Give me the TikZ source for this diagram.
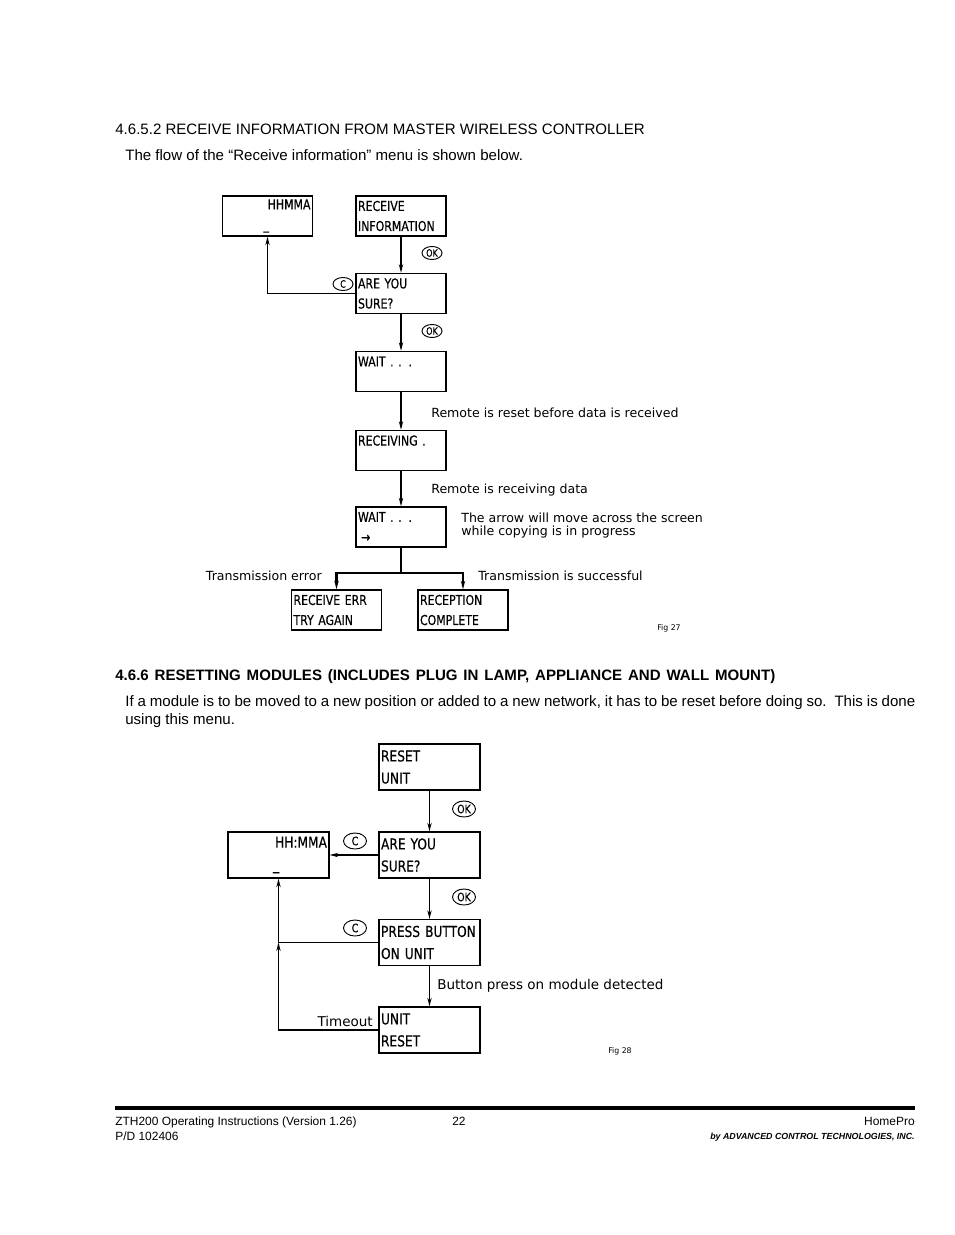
\documentclass[tikz,border=0pt]{standalone}
\usepackage{fontspec}
\setmainfont{Liberation Sans}
\newfontfamily\boxfont[FakeStretch=0.8,FakeBold=0.4]{DejaVu Sans}
\newfontfamily\bigboxfont[FakeStretch=0.81,FakeBold=0.4]{DejaVu Sans}
\newfontfamily\notefont{DejaVu Sans}
\usetikzlibrary{arrows.meta,shapes.geometric}
\tikzset{
BOX/.style ={draw=black,line width=0.9pt,minimum width=57.95pt,minimum height=25.8pt,inner xsep=1.3pt,inner ysep=0pt,text width=55.35pt,align=left,font=\boxfont\fontsize{8.8}{12.9}\selectfont},
BIGBOX/.style ={BOX,minimum width=65pt,minimum height=29.6pt,text width=62.4pt,font=\bigboxfont\fontsize{9.7}{14.2}\selectfont},
ARR/.style ={draw=black,line width=0.8pt,-{Stealth[length=5.5pt,width=2.8pt]}},
THICKARR/.style ={ARR,line width=1.3pt},
LINE/.style ={draw=black,line width=0.8pt},
THICKLINE/.style ={LINE,line width=1.3pt},
KEY/.style ={draw=black,ellipse,line width=0.6pt,minimum width=12.9pt,minimum height=8.4pt,inner sep=0pt,font=\boxfont\fontsize{6.5}{6.5}\selectfont},
BIGKEY/.style ={KEY,minimum width=14.8pt,minimum height=10.3pt,font=\bigboxfont\fontsize{7.5}{7.5}\selectfont},
NOTE/.style ={inner sep=0pt,anchor=west,align=left,font=\notefont\fontsize{8.1}{8.4}\selectfont},
BIGNOTE/.style ={NOTE,font=\notefont\fontsize{8.7}{9}\selectfont},
PAGE/.style ={inner sep=0pt,anchor=base west,font=\fontsize{9.7}{11.5}\selectfont},
FOOT/.style ={inner sep=0pt,anchor=base west,font=\fontsize{7.7}{9}\selectfont},
}
\begin{document}
\begin{tikzpicture}
[x=0.6439pt, y=-0.6439pt]
	\useasboundingbox (0,0) rectangle (954,1235);
	% page text
	\node[PAGE] (head1) at (115,135) {4.6.5.2 RECEIVE INFORMATION FROM MASTER WIRELESS CONTROLLER};
	\node[PAGE] (intro1) at (125,161) {The flow of the “Receive information” menu is shown below.};
	\node[PAGE] (head2) at (115,680) {\bfseries\makebox[425pt][s]{4.6.6 RESETTING MODULES (INCLUDES PLUG IN LAMP, APPLIANCE AND WALL MOUNT)}};
	\node[PAGE] (intro2a) at (125,706) {\makebox[508.7pt][s]{If a module is to be moved to a new position or added to a new network, it has to be reset before doing so.\ \ This is done}};
	\node[PAGE] (intro2b) at (125,724) {using this menu.};
	% fig 27
	\node[BOX] (hh1) at (267.5,216) {\makebox[55.35pt][r]{HHMMA}\\\hspace*{25.1pt}\_};
	\node[BOX] (ri) at (401,216) {RECEIVE\\INFORMATION};
	\node[BOX] (ays1) at (401,293.5) {ARE YOU\\SURE?};
	\node[BOX] (w1) at (401,371.5) {WAIT . . .\\\mbox{}};
	\node[BOX] (rcv) at (401,450.5) {RECEIVING .\\\mbox{}};
	\node[BOX] (w2) at (401,527) {WAIT . . .\\\hspace*{2pt}→};
	\node[BOX] (err) at (336.5,610) {RECEIVE ERR\\TRY AGAIN};
	\node[BOX] (done) at (463,610) {RECEPTION\\COMPLETE};
	\coordinate (split) at (401,573);
	\node[KEY] (ok1) at (432,253) {OK};
	\node[KEY] (ok2) at (432,331) {OK};
	\node[KEY] (c1) at (343,284) {C};
	\node[NOTE] (n1) at (431,413) {Remote is reset before data is received};
	\node[NOTE] (n2) at (431,490) {Remote is receiving data};
	\node[NOTE] (n3) at (461,525.5) {The arrow will move across the screen\\while copying is in progress};
	\node[NOTE,anchor=east] (n4) at (322,576) {Transmission error};
	\node[NOTE] (n5) at (478,576) {Transmission is successful};
	\node[NOTE,font=\notefont\fontsize{5}{6}\selectfont] (fig1) at (657,628) {Fig 27};
	\path[ARR] (ri.south) -- (ays1.north);
	\path[ARR] (ays1.west) -| (hh1.south);
	\path[ARR] (ays1.south) -- (w1.north);
	\path[ARR] (w1.south) -- (rcv.north);
	\path[THICKARR] (rcv.south) -- (w2.north);
	\path[THICKLINE] (w2.south) -- (split);
	\path[THICKARR] (split) -| (err.north);
	\path[THICKARR] (split) -| (done.north);
	% fig 28
	\node[BIGBOX] (rst) at (429.5,767) {RESET\\UNIT};
	\node[BIGBOX] (ays2) at (429.5,855) {ARE YOU\\SURE?};
	\node[BIGBOX] (hh2) at (278.5,855) {\makebox[62.4pt][r]{HH:MMA}\\\hspace*{27.7pt}\_};
	\node[BIGBOX] (pb) at (429.5,942.5) {\mbox{PRESS BUTTON}\\ON UNIT};
	\node[BIGBOX] (ur) at (429.5,1030) {UNIT\\RESET};
	\node[BIGKEY] (ok3) at (464,809) {OK};
	\node[BIGKEY] (ok4) at (464,897) {OK};
	\node[BIGKEY] (c2) at (355,841) {C};
	\node[BIGKEY] (c3) at (355,928) {C};
	\node[BIGNOTE] (n6) at (437,986) {Button press on module detected};
	\node[BIGNOTE,anchor=east] (n7) at (373,1021) {Timeout};
	\node[NOTE,font=\notefont\fontsize{5}{6}\selectfont] (fig2) at (608,1051) {Fig 28};
	\coordinate (join) at (pb.west -| hh2.south);
	\path[ARR] (rst.south) -- (ays2.north);
	\path[ARR] (ays2.west) -- (hh2.east);
	\path[ARR] (ays2.south) -- (pb.north);
	\path[ARR] (pb.south) -- (ur.north);
	\path[ARR] (ur.west) -| (join);
	\path[LINE] (pb.west) -- (join);
	\path[ARR] (join) -- (hh2.south);
	% footer
	\path[draw=black,line width=2.6pt] (115,1108) coordinate (rulel) -- (915,1108) coordinate (ruler);
	\node[FOOT] (foot1) at (115,1125) {ZTH200 Operating Instructions (Version 1.26)};
	\node[FOOT] (page) at (452,1125) {22};
	\node[FOOT,anchor=base east] (foot2) at (915,1125) {HomePro};
	\node[FOOT] (foot3) at (115,1140) {P/D 102406};
	\node[FOOT,anchor=base east,font=\fontsize{5.7}{7}\selectfont\bfseries\itshape] (foot4) at (915,1139) {by ADVANCED CONTROL TECHNOLOGIES, INC.};
\end{tikzpicture}
\end{document}
